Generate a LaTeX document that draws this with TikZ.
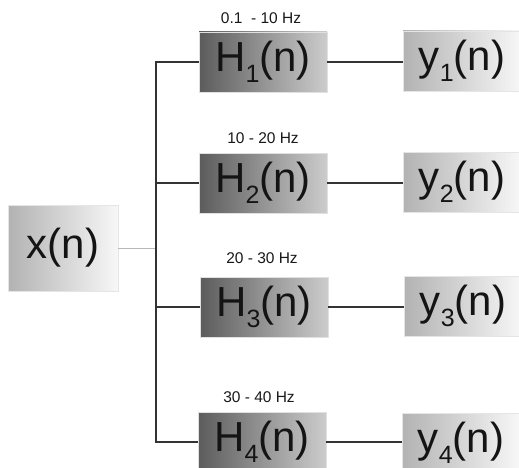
\documentclass[tikz,border=0pt]{standalone}
\usepackage{fontspec}
\setmainfont{Liberation Sans}
\newcommand{\bigtxt}{\fontsize{42}{42}\selectfont}
\newcommand{\subdig}[1]{\raisebox{-0.27em}{\fontsize{25}{25}\selectfont #1}}
\begin{document}
\begin{tikzpicture}[x=1pt,y=-1pt,
  filterbox/.style={minimum width=128pt,minimum height=60pt,inner sep=0pt,outer sep=0pt,
    left color=black!64,right color=black!20,draw=black!12,line width=0.6pt,
    text=black!92,font=\bigtxt},
  outbox/.style={minimum width=118pt,minimum height=60pt,inner sep=0pt,outer sep=0pt,
    left color=black!30,right color=black!3,draw=black!10,line width=0.6pt,
    text=black!92,font=\bigtxt},
  inbox/.style={minimum width=110pt,minimum height=86pt,inner sep=0pt,outer sep=0pt,
    left color=black!30,right color=black!3,draw=black!10,line width=0.6pt,
    text=black!92,font=\bigtxt},
  band/.style={font=\fontsize{15.5}{15.5}\selectfont,text=black!90},
  wire/.style={draw=black!80,line width=1.3pt},
  feed/.style={draw=black!28,line width=0.8pt}]
\useasboundingbox (0,0) rectangle (519,468);
\clip (0,0) rectangle (519,468);
\fill[white] (0,0) rectangle (519,468);

% input block
\node[inbox] (x) at (63,248) {x(n)};

% filter bank
\node[filterbox] (H1) at (263,62)  {H\subdig{1}(n)};
\node[filterbox] (H2) at (263,183) {H\subdig{2}(n)};
\node[filterbox] (H3) at (264,307) {H\subdig{3}(n)};
\node[filterbox] (H4) at (262,442) {H\subdig{4}(n)};

% outputs
\node[outbox] (y1) at (462,61)  {y\subdig{1}(n)};
\node[outbox] (y2) at (462,182) {y\subdig{2}(n)};
\node[outbox] (y3) at (463,306) {y\subdig{3}(n)};
\node[outbox] (y4) at (461,443) {y\subdig{4}(n)};

% pass bands
\node[band] (b1) at (261,18)  {0.1\ \ - 10 Hz};
\node[band] (b2) at (263,138) {10 - 20 Hz};
\node[band] (b3) at (262,258) {20 - 30 Hz};
\node[band] (b4) at (259,397) {30 - 40 Hz};

% distribution bus
\coordinate (bus) at (156,248);
\draw[feed] (x.east) -- (bus);
\draw[wire] (H1.west) -| (bus) |- (H4.west);
\draw[wire] (bus |- H2.west) -- (H2.west);
\draw[wire] (bus |- H3.west) -- (H3.west);

% filter outputs
\draw[wire] (H1.east) -- (y1.west |- H1.east);
\draw[wire] (H2.east) -- (y2.west |- H2.east);
\draw[wire] (H3.east) -- (y3.west |- H3.east);
\draw[wire] (H4.east) -- (y4.west |- H4.east);
\end{tikzpicture}
\end{document}
